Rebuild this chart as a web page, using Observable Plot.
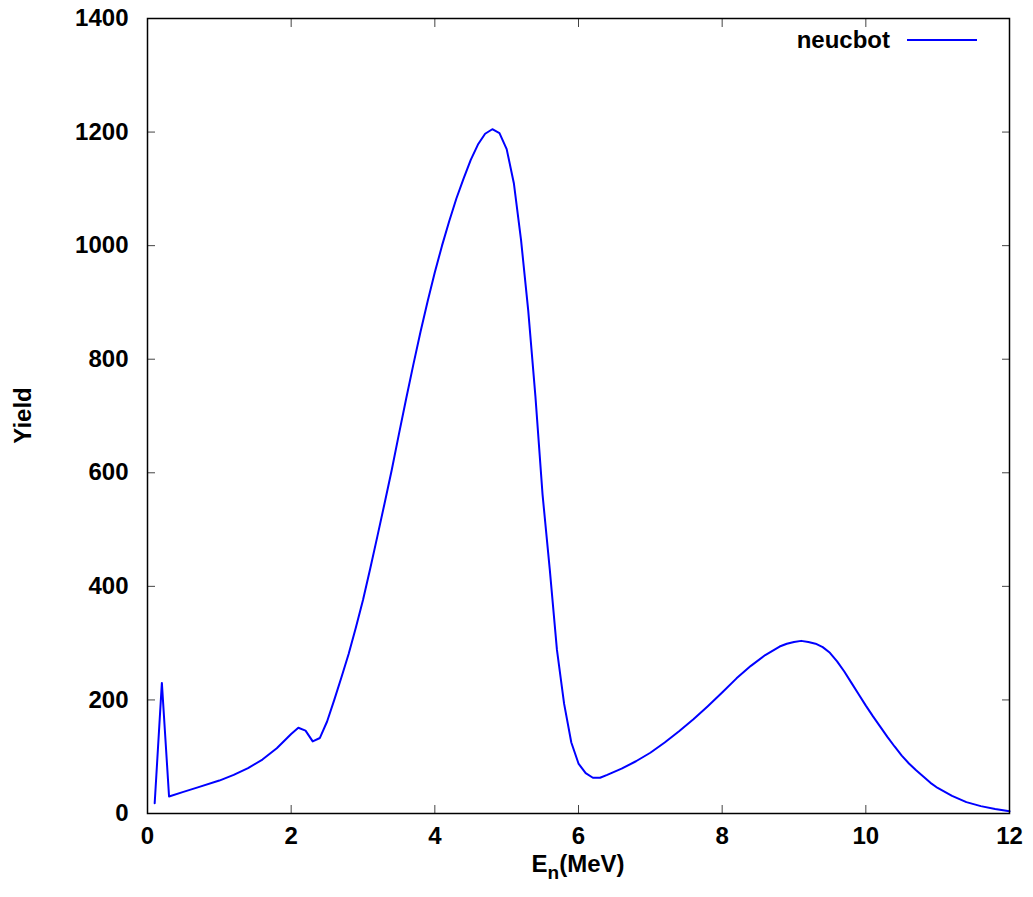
<!DOCTYPE html>
<html>
<head>
<meta charset="utf-8">
<script src="https://cdn.jsdelivr.net/npm/d3@7"></script>
<script src="https://cdn.jsdelivr.net/npm/@observablehq/plot@0.6"></script>
<style>
  html, body { margin: 0; padding: 0; background: #fff; }
</style>
</head>
<body>
<div id="chart"></div>
<script>
const energy = [0.1,0.2,0.3,0.5,0.7,1.0,1.2,1.4,1.6,1.8,2.0,2.1,2.2,2.3,2.4,2.5,2.6,2.7,2.8,2.9,3.0,3.1,3.2,3.3,3.4,3.5,3.6,3.7,3.8,3.9,4.0,4.1,4.2,4.3,4.4,4.5,4.6,4.7,4.8,4.9,5.0,5.1,5.2,5.3,5.4,5.5,5.6,5.7,5.8,5.9,6.0,6.1,6.2,6.3,6.4,6.6,6.8,7.0,7.2,7.4,7.6,7.8,8.0,8.2,8.4,8.6,8.8,8.9,9.0,9.1,9.2,9.3,9.4,9.5,9.6,9.7,9.8,9.9,10.0,10.1,10.2,10.3,10.4,10.5,10.6,10.7,10.8,10.9,11.0,11.2,11.4,11.6,11.8,12.0];
const yieldVals = [18,230,30,38,46,58,68,80,95,115,140,151,146,127,133,162,200,240,281,327,376,431,488,546,605,668,730,790,848,902,953,1000,1043,1083,1118,1151,1178,1197,1205,1198,1170,1110,1010,886,735,561,430,288,193,125,88,71,63,63,68,79,92,107,125,145,166,189,213,238,260,279,294,299,302,304,302,299,293,283,268,250,230,210,190,171,153,135,118,102,88,76,65,54,45,31,20,13,8,4];
const xTicks = [0,2,4,6,8,10,12];
const yTicks = [0,200,400,600,800,1000,1200,1400];
const seriesName = "neucbot";
const xTitleMain = "E";
const xTitleSub = "n";
const xTitleRest = "(MeV)";
const yTitle = "Yield";

const data = energy.map((e, i) => ({energy: e, yield: yieldVals[i]}));

const W = 1033, H = 897;
const mL = 147, mR = 24, mT = 18, mB = 84;

const chart = Plot.plot({
  width: W,
  height: H,
  marginLeft: mL,
  marginRight: mR,
  marginTop: mT,
  marginBottom: mB,
  style: {fontFamily: "'Liberation Sans', Arial, sans-serif", fontSize: "24px", fontWeight: "bold", color: "#000", background: "#fff"},
  x: {domain: [0, 12], ticks: xTicks},
  y: {domain: [0, 1400], ticks: yTicks},
  marks: [
    Plot.axisX(xTicks, {anchor: "bottom", tickSize: 0, tickPadding: 13, label: null, tickFormat: d => String(d), fontSize: 24, fontWeight: "bold"}),
    Plot.axisY(yTicks, {anchor: "left", tickSize: 0, tickPadding: 19, label: null, tickFormat: d => String(d), fontSize: 24, fontWeight: "bold"}),
    Plot.axisX(xTicks, {anchor: "bottom", tickSize: -8, tickFormat: () => "", label: null, stroke: "#444"}),
    Plot.axisX(xTicks, {anchor: "top", tickSize: -8, tickFormat: () => "", label: null, stroke: "#444"}),
    Plot.axisY(yTicks, {anchor: "left", tickSize: -8, tickFormat: () => "", label: null, stroke: "#444"}),
    Plot.axisY(yTicks, {anchor: "right", tickSize: -8, tickFormat: () => "", label: null, stroke: "#444"}),
    Plot.line(data, {x: "energy", y: "yield", stroke: "#0000ff", strokeWidth: 2}),
    Plot.frame({stroke: "#000", strokeWidth: 1.5})
  ]
});

document.getElementById("chart").appendChild(chart);

const svg = d3.select(chart);
const font = "'Liberation Sans', Arial, sans-serif";

// x-axis title with subscript
const xt = svg.append("text")
  .attr("x", mL + (W - mL - mR) / 2)
  .attr("y", 872)
  .attr("text-anchor", "middle")
  .attr("font-family", font)
  .attr("font-size", 24)
  .attr("font-weight", "bold")
  .attr("fill", "#000");
xt.append("tspan").text(xTitleMain);
xt.append("tspan").attr("dy", 7).attr("font-size", 19).text(xTitleSub);
xt.append("tspan").attr("dy", -7).text(xTitleRest);

// y-axis title
svg.append("text")
  .attr("transform", `translate(31, ${mT + (H - mT - mB) / 2}) rotate(-90)`)
  .attr("text-anchor", "middle")
  .attr("font-family", font)
  .attr("font-size", 24)
  .attr("font-weight", "bold")
  .attr("fill", "#000")
  .text(yTitle);

// legend
const legendY = 40;
svg.append("text")
  .attr("x", 890)
  .attr("y", legendY)
  .attr("dy", "0.35em")
  .attr("text-anchor", "end")
  .attr("font-family", font)
  .attr("font-size", 24)
  .attr("font-weight", "bold")
  .attr("fill", "#000")
  .text(seriesName);
svg.append("line")
  .attr("x1", 907).attr("x2", 977)
  .attr("y1", legendY).attr("y2", legendY)
  .attr("stroke", "#0000ff")
  .attr("stroke-width", 2);
</script>
</body>
</html>
